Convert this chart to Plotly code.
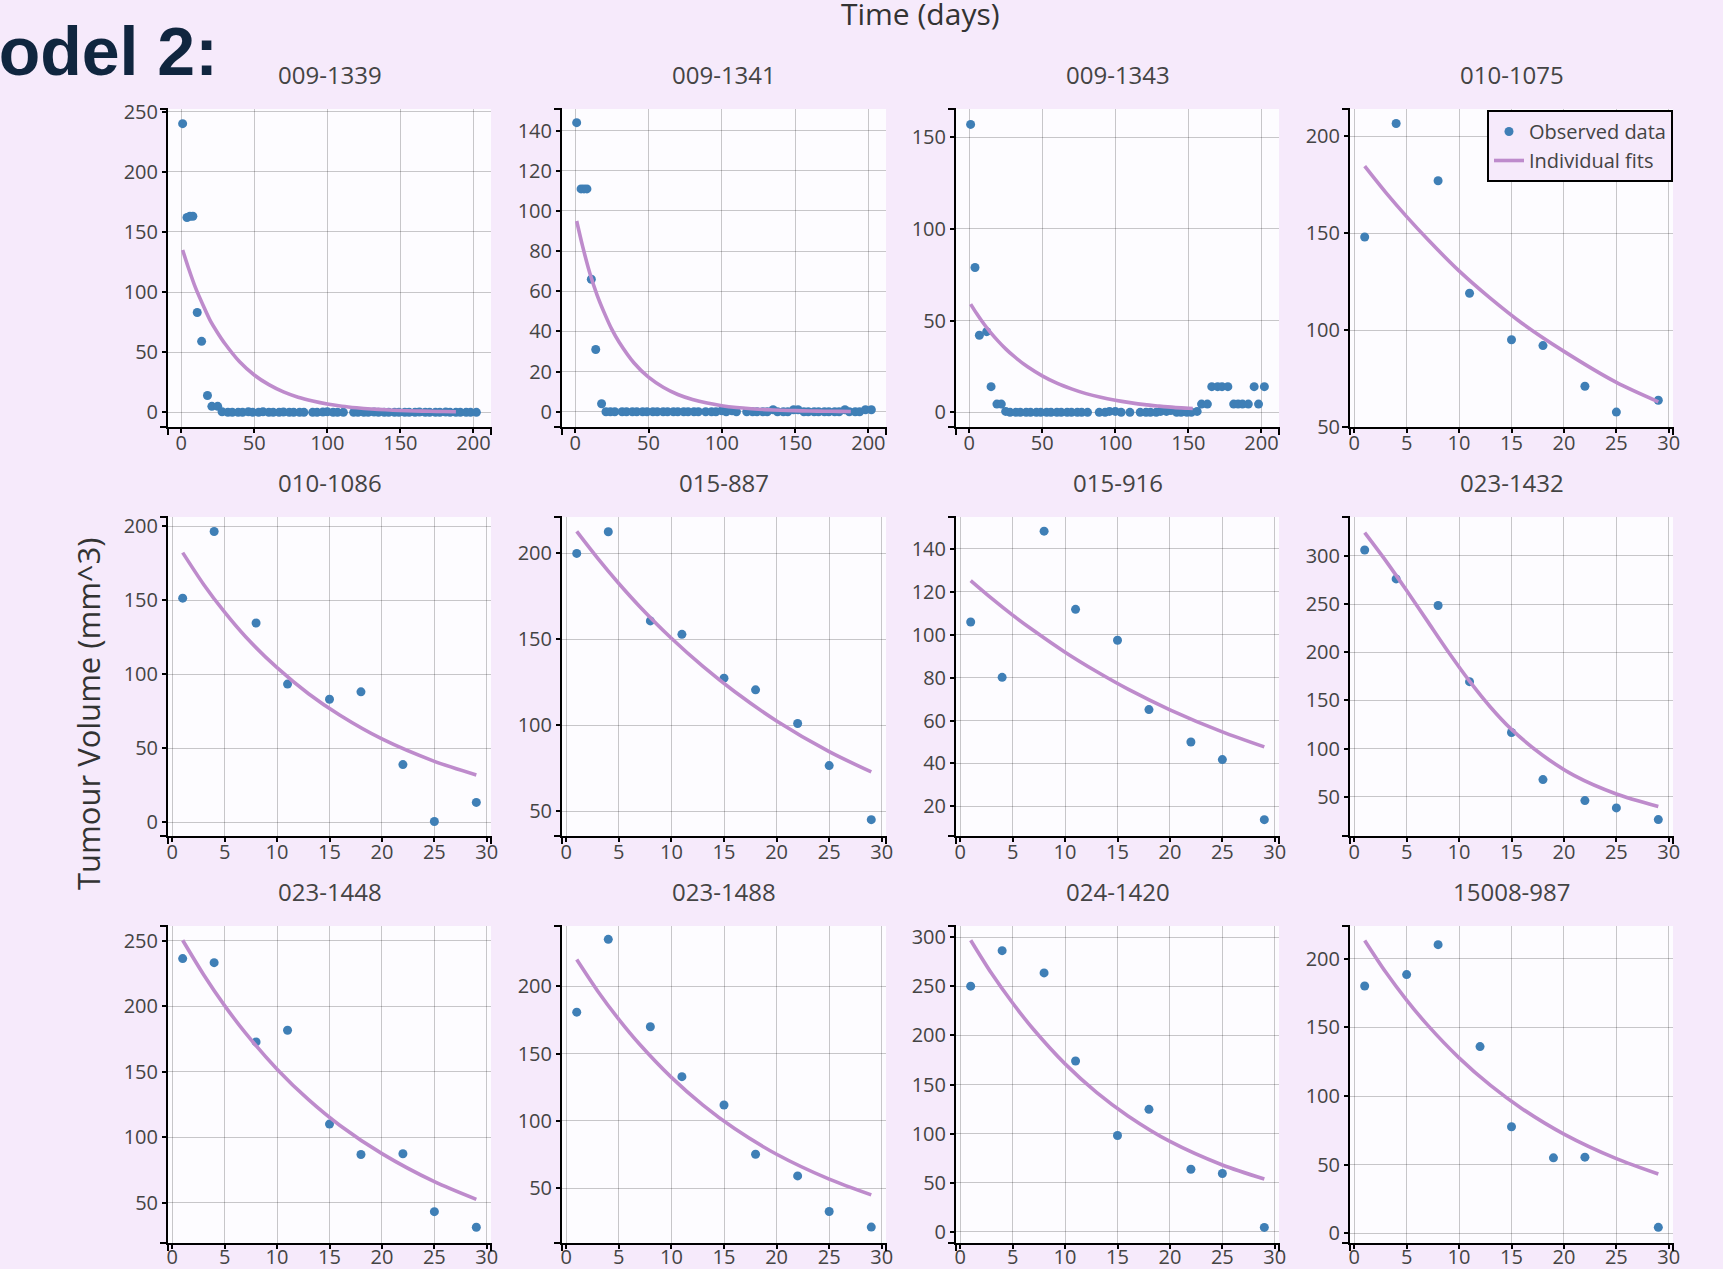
import plotly.graph_objects as go

# ---------------- data ----------------
titles = ["009-1339", "009-1341", "009-1343", "010-1075",
          "010-1086", "015-887", "015-916", "023-1432",
          "023-1448", "023-1488", "024-1420", "15008-987"]

# observed data (days, tumour volume)
t_009_1339 = [1, 4, 6, 8, 11, 14, 18, 21, 25, 28, 32, 35, 39, 42, 46, 49, 53, 56, 60, 63,
              67, 70, 74, 77, 81, 84, 90, 93, 97, 100, 104, 107, 111, 118, 121, 125, 128,
              132, 135, 139, 142, 146, 149, 153, 156, 160, 163, 167, 170, 174, 177, 181,
              184, 188, 191, 195, 198, 202]
v_009_1339 = [240, 162, 163, 163, 83, 59, 14, 5, 5, 0.5, 0, 0, 0, 0, 0.5, 0, 0, 0.5, 0, 0,
              0, 0.3, 0, 0, 0, 0, 0, 0, 0.3, 0.5, 0, 0, 0, 0, 0, 0, 0, 0.3,
              0, 0, 0, 0, 0, 0, 0, 0, 0.3, 0, 0, 0, 0, 0.3, 0, 0, 0, 0, 0, 0]

t_009_1341 = [1, 4, 6, 8, 11, 14, 18, 21, 24, 27, 32, 35, 39, 42, 46, 49, 53, 56, 60, 63,
              67, 70, 74, 77, 81, 84, 89, 93, 96, 100, 103, 107, 110, 117, 121, 124, 128,
              131, 135, 138, 142, 145, 149, 152, 156, 159, 163, 166, 170, 173, 177, 180,
              184, 187, 191, 194, 198, 202]
v_009_1341 = [144, 111, 111, 111, 66, 31, 4, 0, 0, 0, 0, 0, 0, 0, 0, 0, 0, 0, 0, 0,
              0, 0, 0, 0, 0, 0, 0, 0, 0, 0.5, 0, 0.5, 0, 0, 0, 0, 0,
              0, 1, 0, 0, 0, 1, 1, 0, 0, 0, 0, 0, 0, 0, 0,
              1, 0, 0, 0, 1, 1]

t_009_1343 = [1, 4, 7, 12, 15, 19, 22, 25, 28, 32, 35, 39, 42, 46, 49, 53, 56, 60, 63, 67,
              70, 74, 77, 81, 89, 93, 96, 100, 104, 110, 117, 121, 124, 128, 131, 135, 138,
              142, 145, 149, 152, 156, 159, 163, 166, 170, 173, 177, 181, 184, 187, 191,
              195, 198, 202]
v_009_1343 = [157, 79, 42, 44, 14, 4.5, 4.5, 0.5, 0, 0, 0, 0, 0, 0, 0, 0, 0, 0, 0, 0,
              0, 0, 0, 0, 0, 0, 0.5, 0.5, 0, 0, 0, 0, 0, 0, 0.5, 0.5, 1,
              0, 0, 0, 0, 0.5, 4.5, 4.5, 14, 14, 14, 14, 4.5, 4.5, 4.5, 4.5,
              14, 4.5, 14]

t_short = [1, 4, 8, 11, 15, 18, 22, 25, 29]
v_010_1075 = [148, 206.5, 177, 119, 95, 92, 71, 57.7, 63.8]
v_010_1086 = [151.5, 196.6, 134.7, 93.4, 83.2, 88.2, 39, 0.5, 13.4]
v_015_887 = [200, 212.6, 160.7, 152.9, 127.4, 120.6, 101, 76.5, 45]
v_015_916 = [105.9, 80.1, 148.2, 111.8, 97.4, 65.1, 50, 41.8, 13.8]
v_023_1432 = [306, 276, 248.4, 169.5, 116.8, 68, 46.2, 38.6, 26.5]
v_023_1448 = [236.3, 233.2, 172.7, 181.6, 110, 86.8, 87.3, 43.1, 31.2]
v_023_1488 = [180.7, 234.8, 169.9, 132.8, 111.8, 75.2, 59.1, 32.7, 21.1]
v_024_1420 = [250.2, 286.4, 263.7, 173.9, 98, 124.7, 63.7, 59.3, 4.4]
t_15008_987 = [1, 5, 8, 12, 15, 19, 22, 29]
v_15008_987 = [180.1, 188.4, 210.2, 136, 77.6, 55, 55.5, 4.4]

# individual fits
fit_t_long = [1, 5, 10, 15, 20, 25, 30, 40, 50, 60, 70, 80, 90, 100, 110, 120, 130, 140,
              150, 160, 170, 180, 188]
fit_009_1339 = [135, 120, 103, 89, 76, 66, 57, 42, 31, 23, 17, 12.6, 9.4, 6.9, 5.1, 3.8,
                2.8, 2.1, 1.5, 1.1, 0.85, 0.63, 0.49]
fit_009_1341 = [95, 82.6, 69, 58, 49, 41, 34.6, 24.4, 17.2, 12.2, 8.6, 6.1, 4.3, 3.0, 2.1,
                1.5, 1.07, 0.76, 0.54, 0.38, 0.27, 0.19, 0.15]
fit_t_1343 = [1, 5, 10, 15, 20, 25, 30, 40, 50, 60, 70, 80, 90, 100, 110, 120, 130, 140,
              150, 153]
fit_009_1343 = [59, 54, 48.3, 43.2, 38.7, 34.6, 31, 24.8, 19.9, 15.9, 12.8, 10.2, 8.2, 6.6,
                5.3, 4.2, 3.4, 2.7, 2.2, 2.05]
fit_t_short = [1, 3, 5, 7, 10, 13, 16, 20, 25, 29]
fit_010_1075 = [184.5, 171, 158.5, 146.8, 130.5, 116.3, 103.5, 89, 73, 63]
fit_010_1086 = [182.3, 160.8, 142, 125.4, 104.5, 86.9, 72.3, 56.3, 41.2, 32]
fit_015_887 = [212.8, 197.1, 182.5, 169, 150.6, 134.2, 119.6, 102.5, 84.6, 72.8]
fit_015_916 = [125.2, 116.9, 109.1, 101.9, 91.8, 82.8, 74.6, 65, 54.7, 47.7]
fit_t_1432 = [1, 3, 5, 7, 9, 11, 13, 15, 18, 21, 25, 29]
fit_023_1432 = [324, 295, 264, 232, 200, 170, 143, 120, 93, 72, 53, 40]
fit_023_1448 = [250.3, 224, 200.4, 179.4, 151.9, 128.6, 108.9, 87.4, 66, 52.5]
fit_023_1488 = [219.8, 196.3, 175.4, 156.7, 132.3, 111.7, 94.3, 75.2, 56.7, 45]
fit_024_1420 = [297, 263, 233, 206, 171, 142, 118, 92, 68, 53.7]
fit_15008_987 = [213.3, 190.3, 169.9, 151.6, 127.8, 107.7, 90.8, 72.3, 54.4, 43.2]

obs = [(t_009_1339, v_009_1339), (t_009_1341, v_009_1341), (t_009_1343, v_009_1343),
       (t_short, v_010_1075), (t_short, v_010_1086), (t_short, v_015_887),
       (t_short, v_015_916), (t_short, v_023_1432), (t_short, v_023_1448),
       (t_short, v_023_1488), (t_short, v_024_1420), (t_15008_987, v_15008_987)]
fits = [(fit_t_long, fit_009_1339), (fit_t_long, fit_009_1341), (fit_t_1343, fit_009_1343),
        (fit_t_short, fit_010_1075), (fit_t_short, fit_010_1086), (fit_t_short, fit_015_887),
        (fit_t_short, fit_015_916), (fit_t_1432, fit_023_1432), (fit_t_short, fit_023_1448),
        (fit_t_short, fit_023_1488), (fit_t_short, fit_024_1420), (fit_t_short, fit_15008_987)]

y_ranges = [[-12.2, 252.2], [-7.6, 150.8], [-8, 165.4], [50, 214],
            [-9.3, 206.4], [35.5, 221.2], [6.2, 154.8], [9.5, 340.2],
            [19.2, 261.2], [9.3, 244.7], [-11.5, 311.5], [-7, 223.8]]
y_dticks = [50, 20, 50, 50, 50, 50, 20, 50, 50, 50, 50, 50]

# ---------------- layout geometry (pixels) ----------------
W, H = 1723, 1269
cols_px = [(168, 491), (562, 886), (956, 1279), (1350, 1673)]
rows_px = [(109, 427), (517, 836), (926, 1243)]

PAPER = "#F6EAFB"
MARKER = "#3F7FB6"
LINE = "#BE8BCC"
FONT = "Open Sans"
GRID = "rgba(0,0,0,0.21)"

fig = go.Figure()
layout = dict(
    width=W, height=H, autosize=False,
    margin=dict(l=0, r=0, t=0, b=0, pad=0),
    paper_bgcolor=PAPER,
    plot_bgcolor="#FDFCFF",
    font=dict(family=FONT, color="#444"),
    showlegend=True,
    legend=dict(x=1673 / W, xanchor="right", y=1 - 110 / H, yanchor="top",
                bgcolor=PAPER, bordercolor="black", borderwidth=2,
                font=dict(size=20, color="#444"), tracegroupgap=0),
)

annotations = []
shapes = []
end_tick = dict(type="line", line=dict(color="black", width=2), layer="above")
for i in range(12):
    r, c = divmod(i, 4)
    x0, x1 = cols_px[c]
    y0, y1 = rows_px[r]
    k = "" if i == 0 else str(i + 1)
    long_axis = i < 3
    common = dict(showline=True, linecolor="black", linewidth=2,
                  ticks="outside", tickcolor="black", tickwidth=2, ticklen=4,
                  showgrid=True, gridcolor=GRID, gridwidth=1, automargin=False,
                  zeroline=False, tickfont=dict(size=20, color="#444"))
    layout["xaxis" + k] = dict(
        domain=[x0 / W, x1 / W], anchor="y" + k,
        range=[-9, 212] if long_axis else [-0.4, 30.4],
        dtick=50 if long_axis else 5, tick0=0,
        ticklabelstandoff=-9 if r == 2 else -7, **common)
    layout["yaxis" + k] = dict(
        domain=[1 - y1 / H, 1 - y0 / H], anchor="x" + k,
        range=y_ranges[i], dtick=y_dticks[i], tick0=0, **common)
    tx, ty = obs[i]
    fx, fy = fits[i]
    fig.add_trace(go.Scatter(
        x=tx, y=ty, mode="markers", name="Observed data",
        marker=dict(color=MARKER, size=9),
        xaxis="x" + k, yaxis="y" + k, showlegend=(i == 3)))
    fig.add_trace(go.Scatter(
        x=fx, y=fy, mode="lines", name="Individual fits",
        line=dict(color=LINE, width=3.6, shape="spline", smoothing=0.8),
        xaxis="x" + k, yaxis="y" + k, showlegend=(i == 3)))
    annotations.append(dict(
        text=titles[i], x=(x0 + x1) / 2 / W, y=1 - y0 / H, xref="paper", yref="paper",
        xanchor="center", yanchor="middle", yshift=35, showarrow=False,
        font=dict(size=24, color="#444", family=FONT)))
    # outer end ticks of the axis lines
    xd, yd = "x" + k + " domain", "y" + k + " domain"
    for yy in (0, 1):
        shapes.append(dict(end_tick, xref=xd, yref=yd, xsizemode="pixel", xanchor=0,
                           x0=-8, x1=0, y0=yy, y1=yy))
    for xx in (0, 1):
        shapes.append(dict(end_tick, xref=xd, yref=yd, ysizemode="pixel", yanchor=0,
                           x0=xx, x1=xx, y0=-8, y1=0))

annotations.append(dict(
    text="Time (days)", x=920.5 / W, y=1 - 13 / H, xref="paper", yref="paper",
    xanchor="center", yanchor="middle", showarrow=False,
    font=dict(size=30, color="#333", family=FONT)))
annotations.append(dict(
    text="Tumour Volume (mm^3)", x=88 / W, y=1 - 714 / H, xref="paper", yref="paper",
    xanchor="center", yanchor="middle", textangle=-90, showarrow=False,
    font=dict(size=31, color="#333", family=FONT)))
annotations.append(dict(
    text="<b>Model 2:</b>", x=220 / W, y=1 - 51 / H, xref="paper", yref="paper",
    xanchor="right", yanchor="middle", showarrow=False,
    font=dict(size=68, color="#10263F", family="Liberation Sans")))

layout["annotations"] = annotations
layout["shapes"] = shapes
fig.update_layout(**layout)
fig.write_html(
    "out.html",
    config={"displayModeBar": False},
    post_script="document.body.style.margin='0px';document.body.style.padding='0px';"
                "document.documentElement.style.overflow='hidden';"
                "document.body.style.overflow='hidden';")
